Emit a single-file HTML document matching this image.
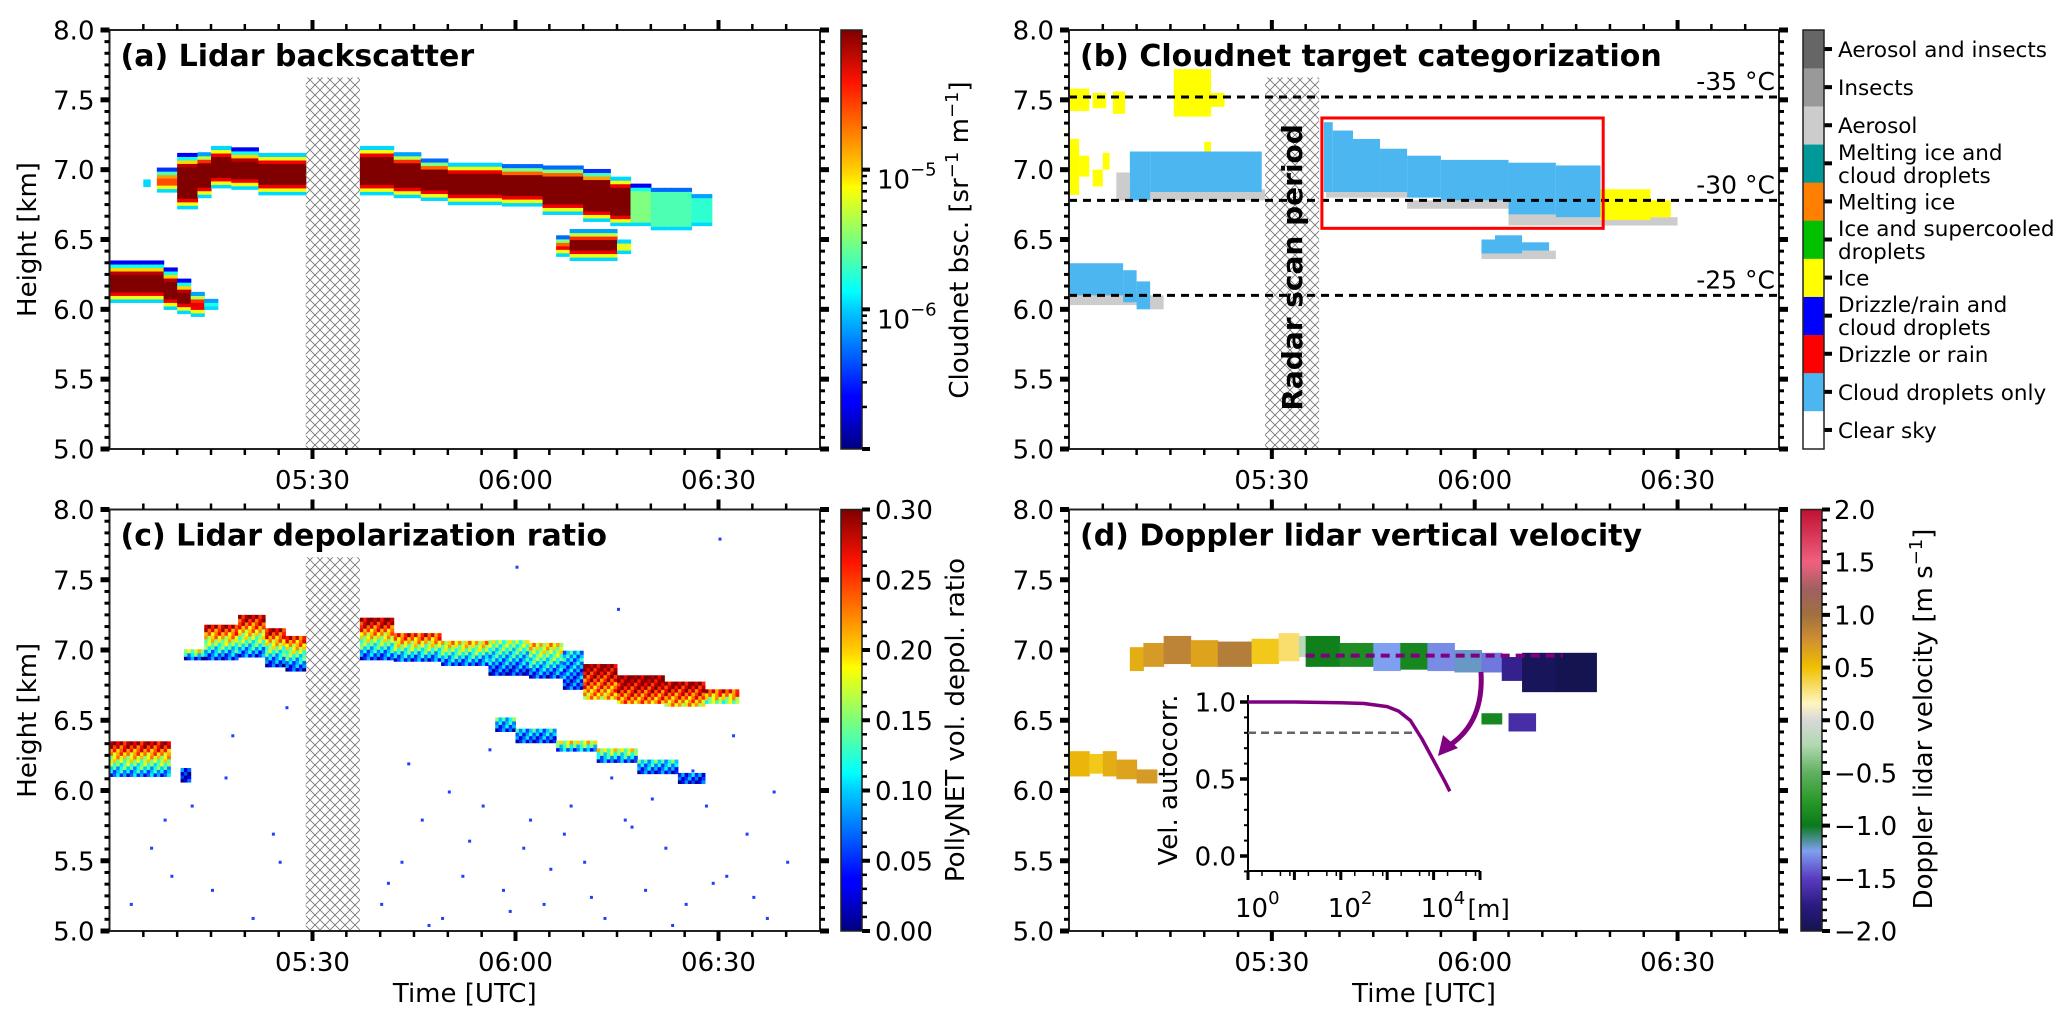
<!DOCTYPE html>
<html><head><meta charset="utf-8"><title>Lidar cloud panels</title>
<style>
html,body{margin:0;padding:0;background:#fff;}
svg{display:block;font-family:"DejaVu Sans","Liberation Sans",sans-serif;}
</style></head>
<body>
<svg id="fig" width="2067" height="1024" viewBox="0 0 2067 1024" xmlns="http://www.w3.org/2000/svg">
<defs>
<pattern id="hatch" patternUnits="userSpaceOnUse" width="10" height="10">
<path d="M0,0 L10,10 M10,0 L0,10" stroke="#777" stroke-width="0.9" fill="none"/>
</pattern>
<linearGradient id="jetGrad" x1="0" y1="1" x2="0" y2="0">
<stop offset="0" stop-color="#00007f"/><stop offset="0.11" stop-color="#0000ff"/><stop offset="0.125" stop-color="#0000ff"/>
<stop offset="0.34" stop-color="#00d4ff"/><stop offset="0.375" stop-color="#00ffff"/><stop offset="0.5" stop-color="#7dff7a"/>
<stop offset="0.625" stop-color="#ffff00"/><stop offset="0.66" stop-color="#ffd400"/><stop offset="0.875" stop-color="#ff1300"/><stop offset="1" stop-color="#7f0000"/>
</linearGradient>
<linearGradient id="velGrad" x1="0" y1="1" x2="0" y2="0">
<stop offset="0" stop-color="#141450"/><stop offset="0.06" stop-color="#2a1a80"/><stop offset="0.125" stop-color="#5a3cc0"/>
<stop offset="0.19" stop-color="#7fa0f0"/><stop offset="0.25" stop-color="#0a7a1a"/><stop offset="0.31" stop-color="#2a9a2a"/>
<stop offset="0.375" stop-color="#60b060"/><stop offset="0.44" stop-color="#b0d8b0"/><stop offset="0.5" stop-color="#d8d8d8"/>
<stop offset="0.54" stop-color="#fff5c0"/><stop offset="0.625" stop-color="#f0c000"/><stop offset="0.69" stop-color="#d09030"/>
<stop offset="0.75" stop-color="#a07040"/><stop offset="0.81" stop-color="#a06060"/><stop offset="0.875" stop-color="#f06080"/><stop offset="1" stop-color="#c01030"/>
</linearGradient>
<clipPath id="clipA"><rect x="109.5" y="30" width="710.5" height="419"/></clipPath>
<clipPath id="clipB"><rect x="1069" y="30" width="710" height="419"/></clipPath>
<clipPath id="clipC"><rect x="109.5" y="509.5" width="710.5" height="421.5"/></clipPath>
<clipPath id="clipD"><rect x="1069" y="509.5" width="710" height="421.5"/></clipPath>
</defs>
<g id="layer"></g>
</svg>
<script>
// ---------------- DATA ----------------
const timeTickMinutes = [30, 60, 90];
const timeTickLabels = ["05:30", "06:00", "06:30"];
const heightTicks = [5.0, 5.5, 6.0, 6.5, 7.0, 7.5, 8.0];
const heightTickLabels = ["5.0", "5.5", "6.0", "6.5", "7.0", "7.5", "8.0"];
const scanPeriod = [29, 37, 7.66];

const bscSegments = [
 [0,8,6.33,6.05,1],[8,10,6.28,6.0,1],[10,12,6.2,5.97,1],[12,14,6.12,5.95,0.9],[14,16,6.07,6.0,0.4],
 [5,6,6.93,6.88,0.45],[7,10,7.0,6.84,0.8],[10,13,7.1,6.72,1],[13,15,7.12,6.8,1],[15,18,7.17,6.87,1],[18,22,7.14,6.86,1],[22,29,7.12,6.82,1],
 [37,42,7.17,6.82,1],[42,46,7.12,6.8,1],[46,50,7.07,6.78,1],[50,58,7.05,6.75,1],[58,64,7.03,6.74,1],[64,70,7.02,6.68,1],
 [70,74,6.99,6.63,1],[74,77,6.95,6.6,1],[77,80,6.88,6.6,0.5],[80,86,6.86,6.57,0.45],[86,89,6.82,6.6,0.42],
 [66,68,6.52,6.38,0.9],[68,75,6.57,6.35,1],[75,77,6.5,6.4,0.6]
];
const bscTickExp = [-6, -5];

const catNames = ["Clear sky","Cloud droplets only","Drizzle or rain","Drizzle/rain and\ncloud droplets","Ice","Ice and supercooled\ndroplets","Melting ice","Melting ice and\ncloud droplets","Aerosol","Insects","Aerosol and insects"];
const catColors = ["#ffffff","#4bb6f0","#ff0000","#0000ff","#ffff00","#00c000","#ff8000","#009999","#cccccc","#999999","#666666"];
const catSegments = [
 [0,3,7.58,7.42,4],[3.5,5.5,7.55,7.44,4],[6.5,8.3,7.56,7.40,4],[15.5,21,7.72,7.38,4],[21,23,7.55,7.45,4],
 [0,1.5,7.22,6.82,4],[1.5,3,7.1,6.95,4],[3.5,5,7.0,6.88,4],[5,6,7.12,7.0,4],[20,21,7.2,7.08,4],
 [7,9,6.98,6.78,8],[9,29,6.86,6.78,8],[9,12,7.13,6.78,1],[12,28.5,7.13,6.84,1],
 [0,12,6.12,6.03,8],[12,14,6.1,6.0,8],[0,8,6.33,6.1,1],[8,10,6.28,6.05,1],[10,12,6.2,6.0,1],
 [38,50,6.86,6.80,8],[50,65,6.78,6.72,8],[65,79,6.7,6.6,8],[78,90,6.66,6.6,8],
 [37.7,39,7.34,6.84,1],[39,42,7.28,6.84,1],[42,46,7.22,6.84,1],[46,50,7.15,6.84,1],[50,55,7.1,6.8,1],[55,65,7.07,6.78,1],[65,72,7.05,6.68,1],[72,78.6,7.03,6.66,1],
 [78.6,86,6.86,6.64,4],[86,89,6.78,6.66,4],
 [61,72,6.42,6.36,8],[61,63,6.5,6.4,1],[63,67,6.53,6.4,1],[67,71,6.48,6.42,1]
];
const isotherms = [7.52, 6.78, 6.1];
const isothermLabels = ["-35 °C", "-30 °C", "-25 °C"];
const redBox = [37.4, 79, 7.37, 6.58];

const depSegments = [
 [0,9,6.34,6.1,0.3,0.07],[10.5,12,6.15,6.06,0.05,0.03],
 [11,14,7.0,6.93,0.22,0.05],[14,19,7.18,6.93,0.3,0.05],[19,23,7.24,6.95,0.3,0.06],[23,26,7.15,6.88,0.3,0.04],[26,29,7.1,6.85,0.28,0.04],
 [37,42,7.23,6.93,0.32,0.05],[42,49,7.12,6.92,0.28,0.06],[49,56,7.06,6.89,0.22,0.06],[56,62,7.05,6.82,0.16,0.04],[62,67,7.03,6.8,0.2,0.05],
 [67,70,6.98,6.72,0.1,0.05],[70,75,6.88,6.65,0.3,0.2],[75,82,6.82,6.62,0.32,0.22],[82,88,6.76,6.6,0.3,0.2],[88,93,6.7,6.62,0.26,0.15],
 [57,60,6.5,6.42,0.12,0.05],[60,66,6.42,6.34,0.1,0.05],[66,72,6.34,6.28,0.2,0.08],[72,78,6.28,6.2,0.18,0.06],[78,84,6.2,6.12,0.12,0.05],[84,88,6.12,6.05,0.08,0.04]
];
const noiseTimes = [3,6,9,12,15,18,21,24,26,40,43,46,49,52,55,58,61,64,67,70,73,76,79,82,85,88,91,94,97,100,44,50,56,62,68,74,80,86,92,98,41,47,53,59,65,71,77,83,89,95,8,17,25,60,75,90];
const noiseHeights = [5.2,5.6,5.4,5.9,5.3,6.4,5.1,5.7,6.6,5.2,5.5,5.8,5.1,5.4,5.9,5.3,5.6,5.2,5.7,5.5,5.1,5.8,5.3,5.6,5.2,5.9,5.4,5.7,5.1,5.5,6.2,6.0,6.3,5.8,5.9,6.1,5.95,6.15,6.4,6.0,5.35,5.05,5.65,5.15,5.45,5.25,5.75,5.05,5.35,5.25,5.8,6.1,5.5,7.6,7.3,7.8];
const depTicks = [0.0, 0.05, 0.10, 0.15, 0.20, 0.25, 0.30];

const velSegments = [
 [0,3,6.28,6.1,0.55],[3,5,6.26,6.12,0.45],[5,7,6.28,6.1,0.6],[7,10,6.22,6.08,0.65],[10,13,6.15,6.05,0.7],
 [9,11,7.02,6.85,0.6],[11,14,7.05,6.88,0.7],[14,18,7.1,6.9,0.85],[18,22,7.07,6.88,0.65],[22,27,7.06,6.88,0.9],[27,31,7.08,6.9,0.45],
 [31,34,7.12,6.92,0.3],[34,35,7.1,6.95,-0.2],[35,40,7.1,6.88,-0.95],[40,45,7.05,6.88,-0.85],[45,49,7.05,6.85,-1.25],[49,53,7.05,6.86,-0.9],
 [53,57,7.05,6.85,-1.3],[57,61,7.0,6.84,-1.2],[61,64,6.98,6.84,-1.35],[64,67,6.95,6.78,-1.7],[67,72,6.98,6.7,-1.95],[72,78,6.98,6.7,-2.0],
 [61,64,6.55,6.47,-0.9],[65,69,6.55,6.42,-1.6]
];
const velTicks = [-2.0,-1.5,-1.0,-0.5,0.0,0.5,1.0,1.5,2.0];
const velTickLabels = ["\u22122.0","\u22121.5","\u22121.0","\u22120.5","0.0","0.5","1.0","1.5","2.0"];
const dashedLevel = [35, 73, 6.96];

const acfLogLag = [0, 1, 2, 2.5, 3, 3.25, 3.5, 3.75, 4, 4.25, 4.35];
const acfValues = [1.0, 1.0, 0.995, 0.99, 0.97, 0.94, 0.88, 0.76, 0.62, 0.48, 0.42];
const acfThreshold = [0.8, 3.67];
const insetYTicks = [0.0, 0.5, 1.0];
const insetXTickExp = [0, 2, 4];

// ---------------- HELPERS ----------------
const NS = "http://www.w3.org/2000/svg";
const root = document.getElementById("layer");
function mk(tag, attrs, parent) {
  const e = document.createElementNS(NS, tag);
  for (const k in attrs) e.setAttribute(k, attrs[k]);
  (parent || root).appendChild(e);
  return e;
}
const P = {
  a: {x0:109.5, x1:820, y0:30, y1:449},
  b: {x0:1069, x1:1779, y0:30, y1:449},
  c: {x0:109.5, x1:820, y0:509.5, y1:931},
  d: {x0:1069, x1:1779, y0:509.5, y1:931}
};
function X(p, t) { return p.x0 + t * (p.x1 - p.x0) / 105; }
function Y(p, h) { return p.y0 + (8 - h) * (p.y1 - p.y0) / 3; }
function clamp(v) { return Math.max(0, Math.min(1, v)); }
function jet(v) {
  v = clamp(v);
  const r = clamp(1.5 - Math.abs(4 * v - 3)), g = clamp(1.5 - Math.abs(4 * v - 2)), b = clamp(1.5 - Math.abs(4 * v - 1));
  return "rgb(" + Math.round(r * 255) + "," + Math.round(g * 255) + "," + Math.round(b * 255) + ")";
}
const velStops = [[-2,[20,20,80]],[-1.75,[42,26,128]],[-1.5,[90,60,192]],[-1.25,[127,160,240]],[-1,[10,122,26]],[-0.75,[42,154,42]],[-0.5,[96,176,96]],[-0.25,[176,216,176]],[0,[216,216,216]],[0.15,[255,245,192]],[0.5,[240,192,0]],[0.75,[208,144,48]],[1,[160,112,64]],[1.25,[160,96,96]],[1.5,[240,96,128]],[2,[192,16,48]]];
function velColor(v) {
  for (let i = 0; i < velStops.length - 1; i++) {
    const a = velStops[i], b = velStops[i + 1];
    if (v <= b[0] || i === velStops.length - 2) {
      const f = clamp((v - a[0]) / (b[0] - a[0]));
      return "rgb(" + a[1].map((c, k) => Math.round(c + (b[1][k] - c) * f)).join(",") + ")";
    }
  }
}

// ---------------- HEATMAPS ----------------
const gA = mk("g", {"clip-path":"url(#clipA)"});


bscSegments.forEach(s => {
  for (let t = s[0]; t < s[1]; t += 1) {
    for (let h = s[3]; h < s[2] - 0.001; h += 0.025) {
      const d = Math.min(h + 0.0125 - s[3], s[2] - h - 0.0125);
      const v = Math.min(s[4], 0.2 + d * 11);
      const r = mk("rect", {x:X(P.a,t), y:Y(P.a,h+0.025), width:X(P.a,t+1)-X(P.a,t)+0.6, height:Y(P.a,h)-Y(P.a,h+0.025)+0.6, fill:jet(v)}, gA);
      
      
    }
  }
});
const gB = mk("g", {"clip-path":"url(#clipB)"});


catSegments.forEach(s => {
  const r = mk("rect", {x:X(P.b,s[0]), y:Y(P.b,s[2]), width:X(P.b,s[1])-X(P.b,s[0]), height:Y(P.b,s[3])-Y(P.b,s[2]), fill:catColors[s[4]]}, gB);
  
  
});
const gC = mk("g", {"clip-path":"url(#clipC)"});


depSegments.forEach(s => {
  let i = 0;
  for (let t = s[0]; t < s[1]; t += 0.5) {
    let j = 0;
    for (let h = s[3]; h < s[2] - 0.001; h += 0.025) {
      const f = (s[2] - h) / (s[2] - s[3]);
      const val = s[4] + (s[5] - s[4]) * f + (((i * 7 + j * 13) % 5) - 2) * 0.02;
      const r = mk("rect", {x:X(P.c,t), y:Y(P.c,h+0.025), width:X(P.c,t+0.5)-X(P.c,t)+0.5, height:Y(P.c,h)-Y(P.c,h+0.025)+0.5, fill:jet(val/0.3)}, gC);
      
      
      j++;
    }
    i++;
  }
});
noiseTimes.forEach((t, k) => {
  const r = mk("rect", {x:X(P.c,t), y:Y(P.c,noiseHeights[k]), width:3, height:3, fill:"#2040ff"}, gC);
  
  
});
const gD = mk("g", {"clip-path":"url(#clipD)"});


velSegments.forEach(s => {
  const r = mk("rect", {x:X(P.d,s[0]), y:Y(P.d,s[2]), width:X(P.d,s[1])-X(P.d,s[0])+0.5, height:Y(P.d,s[3])-Y(P.d,s[2]), fill:velColor(s[4])}, gD);
  
  
});
const dl = mk("line", {x1:X(P.d,dashedLevel[0]), x2:X(P.d,dashedLevel[1]), y1:Y(P.d,dashedLevel[2]), y2:Y(P.d,dashedLevel[2]), stroke:"#800080", "stroke-width":4, "stroke-dasharray":"9,6"});



// ---------------- HATCH ----------------
["a","b","c"].forEach(k => {
  const p = P[k];
  const r = mk("rect", {x:X(p,scanPeriod[0]), y:Y(p,scanPeriod[2]), width:X(p,scanPeriod[1])-X(p,scanPeriod[0]), height:Y(p,5)-Y(p,scanPeriod[2]), fill:"url(#hatch)"});
  
  
});
const rs = mk("text", {x:0, y:0, transform:"translate(" + (X(P.b,33)+10) + "," + Y(P.b,6.3) + ") rotate(-90)", "text-anchor":"middle", "font-size":28, "font-weight":"bold"});
rs.textContent = "Radar scan period";



isotherms.forEach((h, k) => {
  const l = mk("line", {x1:P.b.x0, x2:P.b.x1, y1:Y(P.b,h), y2:Y(P.b,h), stroke:"#000", "stroke-width":3, "stroke-dasharray":"8,6"});
  
  
  const tx = mk("text", {x:P.b.x1 - 4, y:Y(P.b,h) - 7, "text-anchor":"end", "font-size":25});
  tx.textContent = isothermLabels[k];
  
  
});
const rb = mk("rect", {x:X(P.b,redBox[0]), y:Y(P.b,redBox[2]), width:X(P.b,redBox[1])-X(P.b,redBox[0]), height:Y(P.b,redBox[3])-Y(P.b,redBox[2]), fill:"none", stroke:"#ff0000", "stroke-width":3});



// ---------------- AXES ----------------
const titles = {a:"(a) Lidar backscatter", b:"(b) Cloudnet target categorization", c:"(c) Lidar depolarization ratio", d:"(d) Doppler lidar vertical velocity"};
["a","b","c","d"].forEach(k => {
  const p = P[k];
  const fr = mk("rect", {x:p.x0, y:p.y0, width:p.x1-p.x0, height:p.y1-p.y0, fill:"none", stroke:"#222", "stroke-width":2});
  
  
  for (let t = 5; t < 105; t += 5) {
    const major = timeTickMinutes.indexOf(t) >= 0;
    const len = major ? 10 : 6, w = major ? 4 : 2.5;
    [[p.y1, 1], [p.y0, -1]].forEach(([yb, dir]) => {
      const tk = mk("line", {x1:X(p,t), x2:X(p,t), y1:yb, y2:yb + dir * len, stroke:"#000", "stroke-width":w});
      
      
    });
  }
  timeTickMinutes.forEach((t, i) => {
    const tl = mk("text", {x:X(p,t), y:p.y1 + 40, "text-anchor":"middle", "font-size":26});
    tl.textContent = timeTickLabels[i];
    
    
  });
  for (let n = 0; n <= 36; n++) {
    const h = 5 + n / 12;
    const major = n % 6 === 0;
    const len = major ? 9 : 5, w = major ? 5 : 3;
    [[p.x0, -1], [p.x1, 1]].forEach(([xb, dir]) => {
      const tk = mk("line", {x1:xb, x2:xb + dir * len, y1:Y(p,h), y2:Y(p,h), stroke:"#000", "stroke-width":w});
      
      
    });
  }
  heightTicks.forEach((h, i) => {
    const tl = mk("text", {x:p.x0 - 15, y:Y(p,h) + 9.5, "text-anchor":"end", "font-size":26});
    tl.textContent = heightTickLabels[i];
    
    
  });
  const tt = mk("text", {x:p.x0 + 11, y:p.y0 + 36, "font-size":30, "font-weight":"bold"});
  tt.textContent = titles[k];
  
  
});
["a","c"].forEach(k => {
  const p = P[k];
  const yl = mk("text", {x:0, y:0, transform:"translate(36," + ((p.y0+p.y1)/2) + ") rotate(-90)", "text-anchor":"middle", "font-size":26});
  yl.textContent = "Height [km]";
  
  
});
["c","d"].forEach(k => {
  const p = P[k];
  const xl = mk("text", {x:(p.x0+p.x1)/2, y:1002, "text-anchor":"middle", "font-size":26});
  xl.textContent = "Time [UTC]";
  
  
});

// ---------------- COLORBARS ----------------
function cbar(x0, y0, y1, fill, name) {
  const r = mk("rect", {x:x0, y:y0, width:21, height:y1-y0, fill:fill, stroke:"#222", "stroke-width":1.5});
  
  
}
function cbTick(x, y, major) {
  const l = mk("line", {x1:x, x2:x + (major ? 8 : 5), y1:y, y2:y, stroke:"#000", "stroke-width":major ? 4 : 2.5});
  
  
}
function cbLabel(x, y, txt, name) {
  const t = mk("text", {x:0, y:0, transform:"translate(" + x + "," + y + ") rotate(-90)", "text-anchor":"middle", "font-size":26});
  t.textContent = txt;
  
  
  return t;
}
const cbA = {x:841, y0:30, y1:449};
cbar(cbA.x, cbA.y0, cbA.y1, "url(#jetGrad)", "backscatter-colorbar");
function yCbA(lg) { return cbA.y1 - (lg + 7) / 3 * (cbA.y1 - cbA.y0); }
for (let e = -7; e < -4; e++) for (let m = 1; m <= 9; m++) {
  const lg = e + Math.log10(m);
  if (lg > -7.001 && lg < -4) cbTick(cbA.x + 21, yCbA(lg), m === 1);
}
bscTickExp.forEach(e => {
  const t = mk("text", {x:cbA.x + 36, y:yCbA(e) + 19, "font-size":26});
  
  
  const s1 = mk("tspan", {}, t); s1.textContent = "10";
  const s2 = mk("tspan", {dy:-13, "font-size":18}, t); s2.textContent = "\u2212" + (-e);
});
const lblA = cbLabel(968, 240, "", "backscatter-colorbar-title");
const la1 = mk("tspan", {}, lblA); la1.textContent = "Cloudnet  bsc. [sr";
const la2 = mk("tspan", {dy:-10, "font-size":18}, lblA); la2.textContent = "\u22121";
const la3 = mk("tspan", {dy:10}, lblA); la3.textContent = " m";
const la4 = mk("tspan", {dy:-10, "font-size":18}, lblA); la4.textContent = "\u22121";
const la5 = mk("tspan", {dy:10}, lblA); la5.textContent = "]";

const cbB = {x:1803, y0:30, y1:449};
const binH = (cbB.y1 - cbB.y0) / catNames.length;
catNames.forEach((nm, i) => {
  const yTop = cbB.y1 - (i + 1) * binH;
  const r = mk("rect", {x:cbB.x, y:yTop, width:21, height:binH + 0.3, fill:catColors[i]});
  
  
  cbTick(cbB.x + 21, yTop + binH / 2, true);
  const lines = nm.split("\n");
  lines.forEach((ln, j) => {
    const t = mk("text", {x:cbB.x + 35, y:yTop + binH / 2 + 8 + (j - (lines.length - 1) / 2) * 23, "font-size":21.5});
    t.textContent = ln;
    
    
  });
});
const fb = mk("rect", {x:cbB.x, y:cbB.y0, width:21, height:cbB.y1-cbB.y0, fill:"none", stroke:"#222", "stroke-width":1.5});



const cbC = {x:841, y0:509.5, y1:931};
cbar(cbC.x, cbC.y0, cbC.y1, "url(#jetGrad)", "depol-colorbar");
function yCbC(v) { return cbC.y1 - v / 0.3 * (cbC.y1 - cbC.y0); }
for (let n = 0; n <= 30; n++) cbTick(cbC.x + 21, yCbC(n * 0.01), n % 5 === 0);
depTicks.forEach(v => {
  const t = mk("text", {x:cbC.x + 34, y:yCbC(v) + 9.5, "font-size":26});
  t.textContent = v.toFixed(2);
  
  
});
cbLabel(964, 720, "PollyNET vol. depol. ratio", "depol-colorbar-title");

const cbD = {x:1801, y0:509.5, y1:931};
cbar(cbD.x, cbD.y0, cbD.y1, "url(#velGrad)", "velocity-colorbar");
function yCbD(v) { return cbD.y1 - (v + 2) / 4 * (cbD.y1 - cbD.y0); }
for (let n = 0; n <= 40; n++) cbTick(cbD.x + 21, yCbD(-2 + n * 0.1), n % 5 === 0);
velTicks.forEach((v, i) => {
  const t = mk("text", {x:cbD.x + 33, y:yCbD(v) + 9.5, "font-size":26});
  t.textContent = velTickLabels[i];
  
  
});
const lblD = cbLabel(1932, 719, "", "velocity-colorbar-title");
const ld1 = mk("tspan", {}, lblD); ld1.textContent = "Doppler lidar velocity [m s";
const ld2 = mk("tspan", {dy:-10, "font-size":18}, lblD); ld2.textContent = "\u22121";
const ld3 = mk("tspan", {dy:10}, lblD); ld3.textContent = "]";

// ---------------- INSET ----------------
const IN = {x0:1248, dec:46.4, yZero:856, unit:154, yBot:871, yTop:695};
function IX(lg) { return IN.x0 + lg * IN.dec; }
function IY(v) { return IN.yZero - v * IN.unit; }
const sp1 = mk("line", {x1:IN.x0, x2:IN.x0, y1:IN.yTop, y2:IN.yBot, stroke:"#000", "stroke-width":2});


const sp2 = mk("line", {x1:IN.x0, x2:IX(5), y1:IN.yBot, y2:IN.yBot, stroke:"#000", "stroke-width":2});


for (let n = -1; n <= 10; n++) {
  const v = n * 0.1;
  const major = n % 5 === 0;
  const tk = mk("line", {x1:IN.x0, x2:IN.x0 - (major ? 8 : 4), y1:IY(v), y2:IY(v), stroke:"#000", "stroke-width":major ? 3.5 : 2});
  
  
}
insetYTicks.forEach(v => {
  const t = mk("text", {x:IN.x0 - 12, y:IY(v) + 9.5, "text-anchor":"end", "font-size":26});
  t.textContent = v.toFixed(1);
  
  
});
for (let e = 0; e <= 5; e++) {
  const tk = mk("line", {x1:IX(e), x2:IX(e), y1:IN.yBot, y2:IN.yBot + 9, stroke:"#000", "stroke-width":3});
  
  
  if (e < 5) for (let m = 2; m <= 9; m += 3) {
    const mt = mk("line", {x1:IX(e + Math.log10(m)), x2:IX(e + Math.log10(m)), y1:IN.yBot, y2:IN.yBot + 5, stroke:"#000", "stroke-width":1.5});
    
    
  }
}
insetXTickExp.forEach(e => {
  const t = mk("text", {x:IX(e) - 13, y:IN.yBot + 46, "font-size":26});
  
  
  const a = mk("tspan", {}, t); a.textContent = "10";
  const b = mk("tspan", {dy:-13, "font-size":18}, t); b.textContent = String(e);
});
const um = mk("text", {x:IX(4) + 34, y:IN.yBot + 46, "font-size":24});
um.textContent = "[m]";


const iyl = mk("text", {x:0, y:0, transform:"translate(1177,780) rotate(-90)", "text-anchor":"middle", "font-size":26});
iyl.textContent = "Vel. autocorr.";


const th = mk("line", {x1:IX(0), x2:IX(acfThreshold[1]), y1:IY(acfThreshold[0]), y2:IY(acfThreshold[0]), stroke:"#666", "stroke-width":2.5, "stroke-dasharray":"8,5"});


const acfPath = acfLogLag.map((lg, i) => (i ? "L" : "M") + IX(lg).toFixed(1) + "," + IY(acfValues[i]).toFixed(1)).join(" ");
const cv = mk("path", {d:acfPath, fill:"none", stroke:"#800080", "stroke-width":3.5, "stroke-linejoin":"round"});


const ar = mk("path", {d:"M1481,672 Q1484,722 1450,745", fill:"none", stroke:"#800080", "stroke-width":5});


const ah = mk("path", {d:"M1438,756 L1443,735 L1458,748 Z", fill:"#800080"});


</script>
</body></html>
